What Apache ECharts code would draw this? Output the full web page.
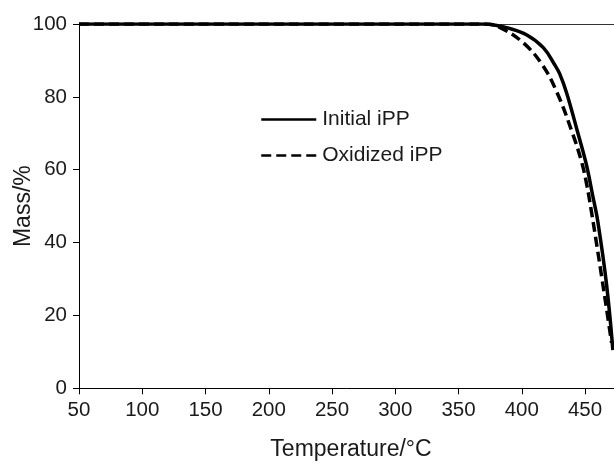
<!DOCTYPE html>
<html>
<head>
<meta charset="utf-8">
<script src="https://cdn.jsdelivr.net/npm/echarts@6/dist/echarts.min.js"></script>
<style>
  html, body { margin: 0; padding: 0; background: #fff; }
  #chart { width: 614px; height: 461px; }
</style>
</head>
<body>
<div id="chart"></div>
<script>
// TGA curves: mass loss of initial and oxidized isotactic polypropylene
const initialTemp = [50, 370, 377, 388, 404, 417, 426, 430, 435.5, 444, 451, 456, 460, 467, 472];
const initialMass = [100, 100, 99.8, 99, 97, 93.5, 88.8, 86.3, 81, 70.5, 61.5, 53, 46, 28.5, 10.5];

const oxidizedTemp = [50, 372, 383, 401, 416, 427.6, 440, 447.4, 451.3, 455.3, 459.2, 463.2, 467, 471];
const oxidizedMass = [100, 100, 99, 94.9, 88.9, 81.4, 70.1, 62, 56, 48, 39.5, 30.5, 21.8, 12.5];

const xTicks = [50, 100, 150, 200, 250, 300, 350, 400, 450];
const yTicks = [0, 20, 40, 60, 80, 100];

const pairs = (xs, ys) => xs.map((x, i) => [x, ys[i]]);

const font = 'Liberation Sans, Arial, Helvetica, sans-serif';
const ink = '#1a1a1a';

const chart = echarts.init(document.getElementById('chart'), null, { renderer: 'canvas' });

chart.setOption({
  animation: false,
  backgroundColor: '#ffffff',
  textStyle: { fontFamily: font, color: ink },
  grid: { left: 79, top: 24, width: 544, height: 364.3, containLabel: false, outerBoundsMode: 'none' },
  legend: {
    left: 255,
    top: 104,
    orient: 'vertical',
    itemWidth: 55,
    itemHeight: 20,
    itemGap: 15,
    textStyle: { fontFamily: font, fontSize: 21, color: ink, padding: [0, 0, 0, 1] },
    data: [
      {
        name: 'Initial iPP',
        itemStyle: { opacity: 0 },
        lineStyle: { width: 2.5, type: 'solid', color: '#000', opacity: 1 }
      },
      {
        name: 'Oxidized iPP',
        itemStyle: { opacity: 0 },
        lineStyle: { width: 2.5, type: [10, 5], color: '#000', opacity: 1 }
      }
    ]
  },
  xAxis: [
    {
      type: 'value',
      min: xTicks[0],
      max: 480,
      interval: 50,
      name: 'Temperature/°C',
      nameLocation: 'middle',
      nameGap: 50,
      nameTextStyle: { fontFamily: font, fontSize: 23, color: ink },
      axisLine: { show: true, onZero: false, lineStyle: { color: '#000', width: 1 } },
      axisTick: { show: true, inside: false, length: 6, lineStyle: { color: '#000' } },
      axisLabel: {
        fontFamily: font, fontSize: 20.5, color: ink, margin: 12,
        formatter: v => (xTicks.indexOf(v) >= 0 ? String(v) : '')
      },
      splitLine: { show: false }
    },
    {
      type: 'value',
      position: 'top',
      min: xTicks[0],
      max: 480,
      interval: 50,
      axisLine: { show: true, onZero: false, lineStyle: { color: '#333', width: 1 } },
      axisTick: { show: false },
      axisLabel: { show: false },
      splitLine: { show: false }
    }
  ],
  yAxis: {
    type: 'value',
    min: yTicks[0],
    max: yTicks[yTicks.length - 1],
    interval: 20,
    name: 'Mass/%',
    nameLocation: 'middle',
    nameMoveOverlap: false,
    nameGap: 44,
    nameTextStyle: { fontFamily: font, fontSize: 23, color: ink },
    axisLine: { show: true, onZero: false, lineStyle: { color: '#000', width: 1 } },
    axisTick: { show: true, inside: false, length: 6, lineStyle: { color: '#000' } },
    axisLabel: { fontFamily: font, fontSize: 20.5, color: ink, margin: 12 },
    splitLine: { show: false }
  },
  series: [
    {
      name: 'Initial iPP',
      type: 'line',
      data: pairs(initialTemp, initialMass),
      showSymbol: false,
      symbol: 'none',
      smooth: 0.4,
      lineStyle: { color: '#000', width: 3.5, type: 'solid' },
      itemStyle: { color: '#000' },
      z: 3
    },
    {
      name: 'Oxidized iPP',
      type: 'line',
      data: pairs(oxidizedTemp, oxidizedMass),
      showSymbol: false,
      symbol: 'none',
      smooth: 0.4,
      lineStyle: { color: '#000', width: 3.5, type: [10, 5] },
      itemStyle: { color: '#000' },
      z: 2
    }
  ]
});
</script>
</body>
</html>
